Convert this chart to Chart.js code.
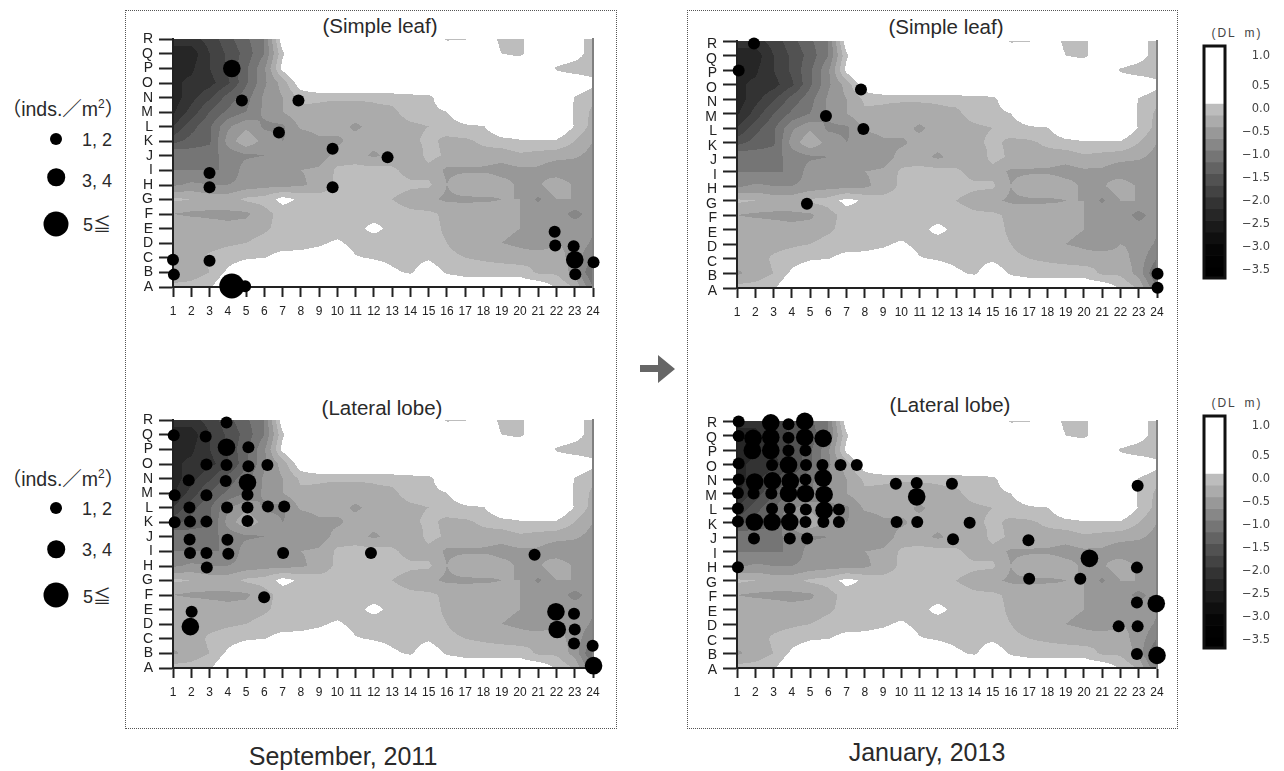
<!DOCTYPE html>
<html>
<head>
<meta charset="utf-8">
<script src="https://cdn.jsdelivr.net/npm/chart.js@4"></script>
<style>
    html, body { margin: 0; padding: 0; background: #fff; }
    body { width: 1284px; height: 771px; position: relative; overflow: hidden;
        font-family: "Liberation Sans", "Noto Sans CJK JP", sans-serif; color: #2a2a2a; }
    canvas { position: absolute; filter: blur(0.5px); }
    .box { position: absolute; border: 1px dotted #555; box-sizing: border-box; }
    .txt { position: absolute; white-space: nowrap; transform: translate(-50%, -50%); }
    .title { font-size: 20.5px; }
    .caption { font-size: 25px; }
    .unit { font-size: 12px; letter-spacing: 2px; word-spacing: 3px; color: #444; }
    .legend { font-size: 18px; }
    .legendTitle { font-size: 19.5px; }
    .legendTitle sup { font-size: 12px; }
    .dot { position: absolute; background: #000; border-radius: 50%; transform: translate(-50%, -50%); }
</style>
</head>
<body>
<div class="box" style="left:125px;top:10px;width:492px;height:719px"></div>
<div class="box" style="left:687px;top:10px;width:491px;height:719px"></div>

<div class="txt title" style="left:380px;top:26px">(Simple leaf)</div>
<div class="txt title" style="left:382px;top:408px">(Lateral lobe)</div>
<div class="txt title" style="left:946px;top:27px">(Simple leaf)</div>
<div class="txt title" style="left:950px;top:405px">(Lateral lobe)</div>
<div class="txt caption" style="left:343px;top:756px">September, 2011</div>
<div class="txt caption" style="left:927px;top:752px">January, 2013</div>

<div class="txt unit" style="left:1237px;top:33px">(DL m)</div>
<div class="txt unit" style="left:1237px;top:403px">(DL m)</div>

<svg style="position:absolute;left:636px;top:350px" width="44" height="40">
    <polygon points="4,15 22,15 22,5 39,19 22,33 22,22 4,22" fill="#666"></polygon>
</svg>

<div id="legends"></div>

<canvas id="chartSepSimple" width="490" height="297" style="left:125px;top:25px"></canvas>
<canvas id="chartSepLateral" width="490" height="297" style="left:125px;top:406px"></canvas>
<canvas id="chartJanSimple" width="490" height="296" style="left:689px;top:27px"></canvas>
<canvas id="chartJanLateral" width="490" height="296" style="left:689px;top:407px"></canvas>
<canvas id="barTop" width="85" height="250" style="left:1195px;top:37px"></canvas>
<canvas id="barBottom" width="85" height="250" style="left:1195px;top:407px"></canvas>

<script>
const stations = ['1','2','3','4','5','6','7','8','9','10','11','12','13','14','15','16','17','18','19','20','21','22','23','24'];
const lines = ['A','B','C','D','E','F','G','H','I','J','K','L','M','N','O','P','Q','R'];

// DL m, one row per line letter (R at the top), one value per station
const depthR = [-2.2,-2.1,-1.9,-1.6,-1.3,-1.0,0.2,0.5,0.5,0.5,0.5,0.5,0.5,0.5,0.3,-0.05,-0.02,0.3,-0.1,-0.1,0.3,0.4,0.2,-0.2];
const depthQ = [-2.3,-2.4,-2.0,-1.7,-1.4,-1.0,-0.05,0.5,0.5,0.5,0.5,0.5,0.5,0.5,0.5,0.4,0.4,0.3,0.0,-0.1,0.4,0.4,0.2,-0.2];
const depthP = [-2.3,-2.3,-2.0,-1.7,-1.3,-0.8,0.1,0.5,0.5,0.5,0.5,0.5,0.5,0.5,0.5,0.5,0.5,0.5,0.4,0.4,0.4,-0.05,-0.2,-0.2];
const depthO = [-2.3,-2.2,-2.1,-1.8,-1.3,-0.8,-0.4,0.2,0.5,0.5,0.5,0.5,0.5,0.5,0.5,0.5,0.5,0.5,0.5,0.5,0.5,0.3,0.3,0.1];
const depthN = [-2.4,-2.1,-1.8,-1.4,-1.1,-0.7,-0.5,-0.2,-0.22,-0.22,-0.22,-0.22,-0.18,-0.12,-0.1,0.3,0.5,0.5,0.5,0.5,0.5,0.4,-0.02,-0.2];
const depthM = [-2.3,-1.9,-1.5,-1.2,-1.0,-0.7,-0.5,-0.3,-0.3,-0.35,-0.35,-0.3,-0.3,-0.15,-0.1,0.0,0.3,0.5,0.5,0.5,0.5,0.4,-0.05,-0.3];
const depthL = [-2.0,-1.6,-1.3,-0.8,-0.55,-0.8,-0.8,-0.45,-0.4,-0.4,-0.55,-0.4,-0.35,-0.3,-0.25,-0.15,-0.05,-0.02,0.3,0.3,0.3,0.3,-0.02,-0.35];
const depthK = [-1.6,-1.4,-1.3,-0.65,-0.3,-0.6,-0.75,-0.7,-0.55,-0.55,-0.4,-0.4,-0.35,-0.3,-0.2,-0.3,-0.3,-0.2,-0.1,-0.03,-0.03,-0.03,-0.25,-0.5];
const depthJ = [-1.0,-1.1,-1.1,-0.9,-0.8,-0.75,-0.75,-0.75,-0.65,-0.4,-0.4,-0.55,-0.4,-0.5,-0.15,-0.3,-0.3,-0.35,-0.4,-0.3,-0.35,-0.4,-0.45,-0.6];
const depthI = [-1.0,-1.0,-1.0,-1.0,-0.6,-0.55,-0.5,-0.5,-0.45,-0.2,-0.15,-0.15,-0.2,-0.35,-0.35,-0.55,-0.55,-0.55,-0.6,-0.55,-0.55,-0.7,-0.7,-0.7];
const depthH = [-0.8,-0.7,-0.75,-0.75,-0.65,-0.6,-0.6,-0.55,-0.4,-0.2,-0.15,-0.15,-0.15,-0.2,-0.2,-0.5,-0.3,-0.25,-0.4,-0.55,-0.55,-0.3,-0.55,-0.6];
const depthG = [-0.2,-0.25,-0.35,-0.35,-0.2,-0.15,0.1,-0.05,-0.15,-0.15,-0.1,-0.15,-0.25,-0.35,-0.45,-0.55,-0.55,-0.55,-0.5,-0.5,-0.8,-0.5,-0.5,-0.55];
const depthF = [-0.5,-0.55,-0.55,-0.55,-0.55,-0.35,-0.15,-0.15,-0.15,-0.15,-0.15,-0.15,-0.15,-0.2,-0.2,-0.3,-0.35,-0.3,-0.4,-0.5,-0.55,-0.6,-0.85,-0.6];
const depthE = [-0.3,-0.3,-0.4,-0.45,-0.4,-0.3,-0.15,-0.15,-0.15,-0.15,-0.1,0.1,-0.1,-0.15,-0.15,-0.3,-0.35,-0.35,-0.45,-0.5,-0.5,-0.55,-0.6,-0.7];
const depthD = [-0.35,-0.35,-0.35,-0.3,-0.25,-0.15,-0.12,-0.1,-0.05,0.05,-0.1,-0.18,-0.15,-0.15,-0.15,-0.25,-0.35,-0.5,-0.5,-0.55,-0.7,-0.5,-0.55,-0.8];
const depthC = [-0.35,-0.4,-0.2,-0.1,-0.03,-0.01,0.1,0.1,0.15,0.25,0.02,-0.03,-0.08,-0.1,-0.05,-0.2,-0.25,-0.3,-0.35,-0.4,-0.3,-0.4,-0.6,-1.0];
const depthB = [-0.55,-0.4,-0.25,0.05,0.2,0.3,0.3,0.3,0.3,0.3,0.3,0.2,0.05,-0.05,0.2,-0.05,-0.1,-0.1,-0.1,-0.1,-0.3,-0.3,-0.6,-1.3];
const depthA = [-0.15,-0.15,-0.05,0.3,0.4,0.4,0.4,0.4,0.4,0.4,0.4,0.4,0.4,0.4,0.4,0.3,0.2,0.2,0.2,0.2,0.2,-0.03,-0.3,-1.0];
const depthRows = [depthA,depthB,depthC,depthD,depthE,depthF,depthG,depthH,depthI,depthJ,depthK,depthL,depthM,depthN,depthO,depthP,depthQ,depthR];

// density records: [station, line number (A=1 .. R=18), class] class 1 = 1,2  2 = 3,4  3 = 5 or more
const sepSimple = [[4.22,16,2],[4.77,13.8,1],[7.87,13.8,1],[6.8,11.6,1],[9.74,10.5,1],[12.75,9.9,1],[3,8.83,1],[3,7.85,1],[9.74,7.85,1],
    [1,2.87,1],[1.05,1.85,1],[3,2.8,1],[4.22,1.07,3],[4.95,1.05,1],[21.9,4.8,1],[21.93,3.85,1],[22.94,3.79,1],[23,2.87,2],[23.03,1.87,1],[24.03,2.7,1]];
const sepLateral = [[3.93,17.86,1],[1.04,16.98,1],[2.79,16.9,1],[3.93,16.16,2],[5.13,16.16,1],[2.83,14.98,1],[3.93,14.93,1],[5.13,14.86,1],[6.17,14.93,1],
    [1.86,13.89,1],[3.89,13.84,1],[5.08,13.73,2],[5.08,12.89,1],[1.09,12.86,1],[2.83,12.86,1],[1.9,12.02,1],[3.96,12.02,1],[5.08,12.02,1],[6.2,12.09,1],[7.09,12.09,1],
    [1.09,11,1],[1.93,11.05,1],[2.83,11.05,1],[5.08,11.09,1],[1.91,9.82,1],[3.98,9.8,1],[1.93,8.89,1],[2.83,8.89,1],[4.03,8.84,1],[7.03,8.89,1],[11.84,8.89,1],[20.8,8.77,1],
    [2.85,7.9,1],[5.99,5.86,1],[2.02,4.86,1],[1.95,3.84,2],[21.97,4.86,2],[22.04,3.64,2],[22.96,4.73,1],[23,3.64,1],[22.96,2.68,1],[23.98,2.52,1],[24.03,1.16,2]];
const janSimple = [[1.93,17.85,1],[1.09,16,1],[7.79,14.68,1],[5.87,12.85,1],[7.92,11.96,1],[4.83,6.8,1],[24.03,1.98,1],[24.03,1.02,1]];
const janLateral = [[1.09,18,1],[2.85,17.9,2],[3.82,17.8,1],[4.71,18,2],
    [1.09,17,1],[1.88,16.83,2],[2.85,16.9,2],[3.82,16.88,1],[4.71,16.9,2],[5.72,16.83,2],
    [1.84,16,2],[2.85,16,2],[3.82,16,1],[4.75,16,1],
    [1.09,15.1,1],[2.92,15,1],[3.82,15,2],[4.78,15,1],[5.68,15,1],[6.67,15,1],[7.56,15,1],
    [1.09,14,1],[1.97,13.82,2],[2.94,13.9,2],[3.92,13.87,2],[4.75,14,1],[5.72,14.1,2],[9.7,13.7,1],[10.84,13.76,1],[12.77,13.7,1],[22.94,13.57,1],
    [1.05,13.07,1],[1.91,13.03,1],[2.88,13.03,1],[3.82,13.03,2],[4.75,13.03,2],[5.77,12.96,2],[10.84,12.8,2],
    [1.05,12,1],[2.92,11.98,1],[3.89,11.98,1],[4.77,11.93,1],[5.77,11.87,2],[6.58,11.93,1],
    [1.05,11.1,1],[1.95,11.07,2],[2.92,11.07,2],[3.89,11.07,2],[4.75,11.07,1],[5.73,11.07,1],[6.58,11.07,1],[9.74,11.07,1],[10.87,11.07,1],[13.74,11.02,1],
    [1.93,9.93,1],[3.89,9.93,1],[4.84,9.93,1],[12.83,9.88,1],[16.96,9.8,1],[20.3,8.56,2],[1.05,7.95,1],[22.9,7.92,1],[17,7.15,1],[19.8,7.15,1],
    [22.9,5.51,1],[23.96,5.44,2],[21.9,3.87,1],[22.94,3.87,1],[22.9,1.96,1],[24,1.87,2]];

// colour scale
const barTicks = [1, 0.5, 0, -0.5, -1, -1.5, -2, -2.5, -3, -3.5];
const bandTops = [0,-0.25,-0.5,-0.75,-1,-1.25,-1.5,-1.75,-2,-2.25,-2.5,-2.75,-3,-3.25,-3.5];
const bandColors = ['#bdbdbd','#ababab','#989898','#878787','#757575','#636363','#525252','#434343','#333333','#262626','#1a1a1a','#0f0f0f','#060606','#020202','#000000'];

const classRadius = {1: 6, 2: 8.8, 3: 12.5};
const legendRows = [['1, 2', 1], ['3, 4', 2], ['5\u2266', 3]];

function hexToGrey(hex) {
    return parseInt(hex.slice(1, 3), 16);
}

function depthAt(col, row) {
    let i = Math.min(Math.max(col - 1, 0), 22.9999);
    let j = Math.min(Math.max(row - 1, 0), 16.9999);
    let i0 = Math.floor(i), j0 = Math.floor(j);
    let fx = i - i0, fy = j - j0;
    let low = depthRows[j0][i0] * (1 - fx) + depthRows[j0][i0 + 1] * fx;
    let high = depthRows[j0 + 1][i0] * (1 - fx) + depthRows[j0 + 1][i0 + 1] * fx;
    return low * (1 - fy) + high * fy;
}

function bandGrey(v) {
    if (v >= 0) {
        return 255;
    }
    let idx = Math.min(Math.floor(-v / 0.25), bandColors.length - 1);
    return hexToGrey(bandColors[idx]);
}

// filled contours of the depth table, painted under the axes
const depthField = {
    id: 'depthField',
    beforeDraw(chart) {
        let area = chart.chartArea;
        let x = chart.scales.x, y = chart.scales.y;
        let w = Math.round(area.right - area.left), h = Math.round(area.bottom - area.top);
        let img = chart.ctx.createImageData(w, h);
        for (let py = 0; py < h; py++) {
            let row = y.getValueForPixel(area.top + py + 0.5);
            for (let px = 0; px < w; px++) {
                let grey = bandGrey(depthAt(x.getValueForPixel(area.left + px + 0.5), row));
                let k = (py * w + px) * 4;
                img.data[k] = img.data[k + 1] = img.data[k + 2] = grey;
                img.data[k + 3] = 255;
            }
        }
        chart.ctx.putImageData(img, area.left, area.top);
    }
};

function makeMap(id, points, labelShift) {
    return new Chart(document.getElementById(id), {
        type: 'bubble',
        data: {
            datasets: [{
                data: points.map(p => ({x: p[0], y: p[1], r: classRadius[p[2]]})),
                backgroundColor: '#000',
                borderWidth: 0,
                clip: false
            }]
        },
        options: {
            responsive: false,
            animation: false,
            devicePixelRatio: 1,
            layout: {autoPadding: false, padding: {left: 0, right: 22, top: 13, bottom: 0}},
            plugins: {legend: {display: false}, tooltip: {enabled: false}},
            scales: {
                x: {
                    type: 'linear', min: 1, max: 24,
                    afterBuildTicks: s => { s.ticks = stations.map((_, i) => ({value: i + 1})); },
                    afterFit: s => { s.height = 35; },
                    grid: {drawOnChartArea: false, tickLength: 10, tickWidth: 2, tickColor: '#222'},
                    border: {color: '#222', width: 2},
                    ticks: {
                        autoSkip: false, maxRotation: 0, padding: 7, color: '#222',
                        font: {family: 'Liberation Sans', size: 12},
                        callback: v => stations[v - 1]
                    }
                },
                y: {
                    type: 'linear', min: 1, max: 18,
                    afterBuildTicks: s => { s.ticks = lines.map((_, i) => ({value: i + 1})); },
                    afterFit: s => { s.width = 48; },
                    grid: {drawOnChartArea: false, tickLength: 14, tickWidth: 2, tickColor: '#222'},
                    border: {color: '#222', width: 2},
                    ticks: {
                        autoSkip: false, padding: 6, color: '#222', labelOffset: labelShift,
                        font: {family: 'Liberation Sans', size: 14},
                        callback: v => lines[v - 1]
                    }
                },
                edge: {
                    type: 'linear', position: 'right', min: 1, max: 18,
                    afterFit: s => { s.width = 0; },
                    grid: {display: false, drawTicks: false},
                    border: {color: '#808080', width: 2},
                    ticks: {display: false}
                }
            }
        },
        plugins: [depthField]
    });
}

const barFrame = {
    id: 'barFrame',
    afterDatasetsDraw(chart) {
        let a = chart.chartArea, ctx = chart.ctx;
        ctx.save();
        ctx.strokeStyle = '#111';
        ctx.lineWidth = 3;
        ctx.strokeRect(a.left + 1, a.top + 1, a.right - a.left - 2, a.bottom - a.top - 2);
        ctx.restore();
    }
};

function makeBar(id) {
    let sets = [{data: [[0, 1.25]], backgroundColor: '#fff'}];
    bandTops.forEach((top, i) => {
        sets.push({data: [[top - 0.25, top]], backgroundColor: bandColors[i]});
    });
    return new Chart(document.getElementById(id), {
        type: 'bar',
        data: {labels: ['DL'], datasets: sets},
        options: {
            responsive: false,
            animation: false,
            devicePixelRatio: 1,
            layout: {autoPadding: false, padding: {left: 8, right: 10, top: 8, bottom: 8}},
            datasets: {bar: {grouped: false, barPercentage: 1, categoryPercentage: 1}},
            plugins: {legend: {display: false}, tooltip: {enabled: false}},
            scales: {
                x: {display: false},
                y: {type: 'linear', display: false, min: -3.75, max: 1.25},
                labels: {
                    type: 'linear', position: 'right', min: -3.7, max: 1.39,
                    // the 1.0 label sits a little higher than the even spacing in the source
                    afterBuildTicks: s => { s.ticks = barTicks.map(v => ({value: v === 1 ? 1.14 : v})); },
                    afterFit: s => { s.width = 44; },
                    grid: {display: false, drawTicks: false},
                    border: {display: false},
                    ticks: {
                        autoSkip: false, padding: 0, crossAlign: 'far', color: '#444',
                        font: {family: 'DejaVu Sans', size: 11.5},
                        callback: v => (v > 1 ? 1 : v).toFixed(1).replace('-', '\u2212')
                    }
                }
            }
        },
        plugins: [barFrame]
    });
}

function addLegend(titleY, dotYs, textYs) {
    let host = document.getElementById('legends');
    let title = document.createElement('div');
    title.className = 'txt legendTitle';
    title.style.left = '63px';
    title.style.top = titleY + 'px';
    title.innerHTML = '\uFF08inds.\uFF0Fm<sup>2</sup>\uFF09';
    host.appendChild(title);
    legendRows.forEach((row, i) => {
        let dot = document.createElement('div');
        dot.className = 'dot';
        dot.style.left = '56px';
        dot.style.top = dotYs[i] + 'px';
        dot.style.width = dot.style.height = classRadius[row[1]] * 2 + 'px';
        host.appendChild(dot);
        let text = document.createElement('div');
        text.className = 'txt legend';
        text.style.left = '97px';
        text.style.top = textYs[i] + 'px';
        text.textContent = row[0];
        host.appendChild(text);
    });
}

addLegend(107, [139, 177, 224], [140, 181, 223]);
addLegend(477, [508, 549, 595], [509, 550, 595]);

makeMap('chartSepSimple', sepSimple, 0);
makeMap('chartSepLateral', sepLateral, 0);
makeMap('chartJanSimple', janSimple, 3);
makeMap('chartJanLateral', janLateral, 2);
makeBar('barTop');
makeBar('barBottom');
</script>
</body>
</html>
